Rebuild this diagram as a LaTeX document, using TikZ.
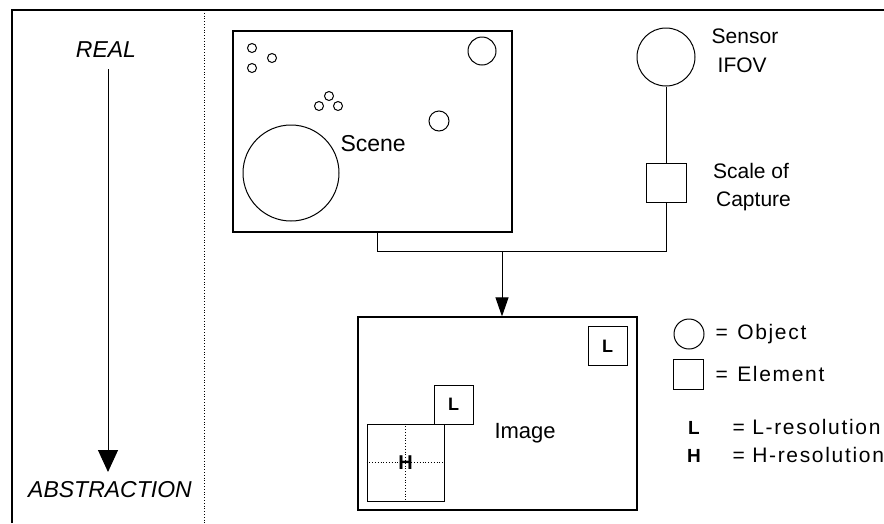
\documentclass[tikz,border=0pt]{standalone}
\usepackage{fontspec}
\setmainfont{Liberation Sans}
\newfontfamily\legfont[LetterSpace=8]{Liberation Sans}
\usetikzlibrary{arrows.meta}
\begin{document}
\begin{tikzpicture}[x=1pt,y=-1pt,line width=1pt,%
        every node/.style={font=\fontsize{21}{23}\selectfont,inner sep=0pt},
        frm/.style={draw,rectangle,line width=1.2pt},
        obj/.style={draw,circle,line width=1pt},
        elem/.style={draw,rectangle,line width=1pt,font=\fontsize{18}{18}\selectfont\bfseries},
        side/.style={font=\fontsize{23}{24}\selectfont\itshape},
        leg/.style={anchor=west,font=\fontsize{21}{23}\legfont}]
  \useasboundingbox (0,0) rectangle (884,523);
  % frame
  \draw[line width=1.6pt] (12,523) -- (12,10) -- (884,10);
  \draw[dotted,line width=0.8pt] (204,10) -- (204,523);
  % real -> abstraction
  \node[side] (real) at (106,50) {REAL}; \node[side] (abs) at (110,490)
  {ABSTRACTION}; \coordinate (rtop) at (108,69); \coordinate (rbot) at
  (108,472); \draw[-{Triangle[length=22pt,width=20pt]}] (rtop) -- (rbot);
  % scene
  \node[frm,minimum width=279pt,minimum height=201pt] (scene) at
  (372.5,131.5) {}; \node[font=\fontsize{23}{24}\selectfont,anchor=west]
  (lscene) at (340,144) {Scene};
  \foreach \x/\y/\r in {252/48/4.5,272/58/4.5,252/68/4.5,319/106/4.5,
    329/96/4.5,338/106/4.5,482/51/14,439/121/10,291/173/48}
    \draw (\x,\y) circle[radius=\r];
  % sensor
  \node[obj,minimum size=58pt] (ifov) at (666,57) {}; \node[align=left]
  (lifov) at (745,51) {Sensor\\[6pt]\hspace*{6pt}IFOV}; \node[frm,line
  width=1pt,minimum width=40pt,minimum height=39pt] (cap) at (666,182.5)
  {}; \node[align=left] (lcap) at (752,187) {Scale of\\[5pt]\hspace*{3pt}Capture};
  \coordinate (js) at (377,251); \coordinate (ji) at (502,251);
  \draw (ifov) -- (cap); \draw (cap.south) |- (js) -- (js |- scene.south);
  % image
  \node[frm,minimum width=279pt,minimum height=193pt] (img) at
  (497.5,413.5) {}; \draw[-{Triangle[length=19pt,width=13pt]}] (ji) --
  (ji |- img.north); \node[anchor=west,font=\fontsize{22}{23}\selectfont]
  (limg) at (494,433) {Image};
  \node[elem,minimum size=39pt] (l1) at (607.5,346) {L}; \node[elem,minimum
  size=39pt] (l2) at (453.5,404.5) {L}; \node[elem,minimum width=77pt,minimum
  height=77pt] (h1) at (405.5,462.5) {};
  \draw[dotted,line width=0.8pt] (h1.north) -- (h1.south); \draw[dotted,line
  width=0.8pt] (h1.west) -- (h1.east); \node[elem,draw=none,font=\fontsize{20}{20}\selectfont\bfseries]
  (lh1) at (h1) {H};
  % legend
  \node[obj,minimum size=30pt] (kobj) at (689,334) {}; \node[leg] (lobj)
  at (715,334) {=\hspace{2pt} Object}; \node[elem,minimum size=30pt] (kel) at
  (688.5,374) {}; \node[leg] (lel) at (715,374) {=\hspace{2pt} Element};
  \node[elem,draw=none,font=\fontsize{19}{19}\selectfont\bfseries] (kl)
  at (694,428) {L}; \node[leg] (ll) at (732,427) {= L-resolution};
  \node[elem,draw=none,font=\fontsize{19}{19}\selectfont\bfseries] (kh)
  at (694,456) {H}; \node[leg] (lh) at (732,455) {= H-resolution};
\end{tikzpicture}
\end{document}
